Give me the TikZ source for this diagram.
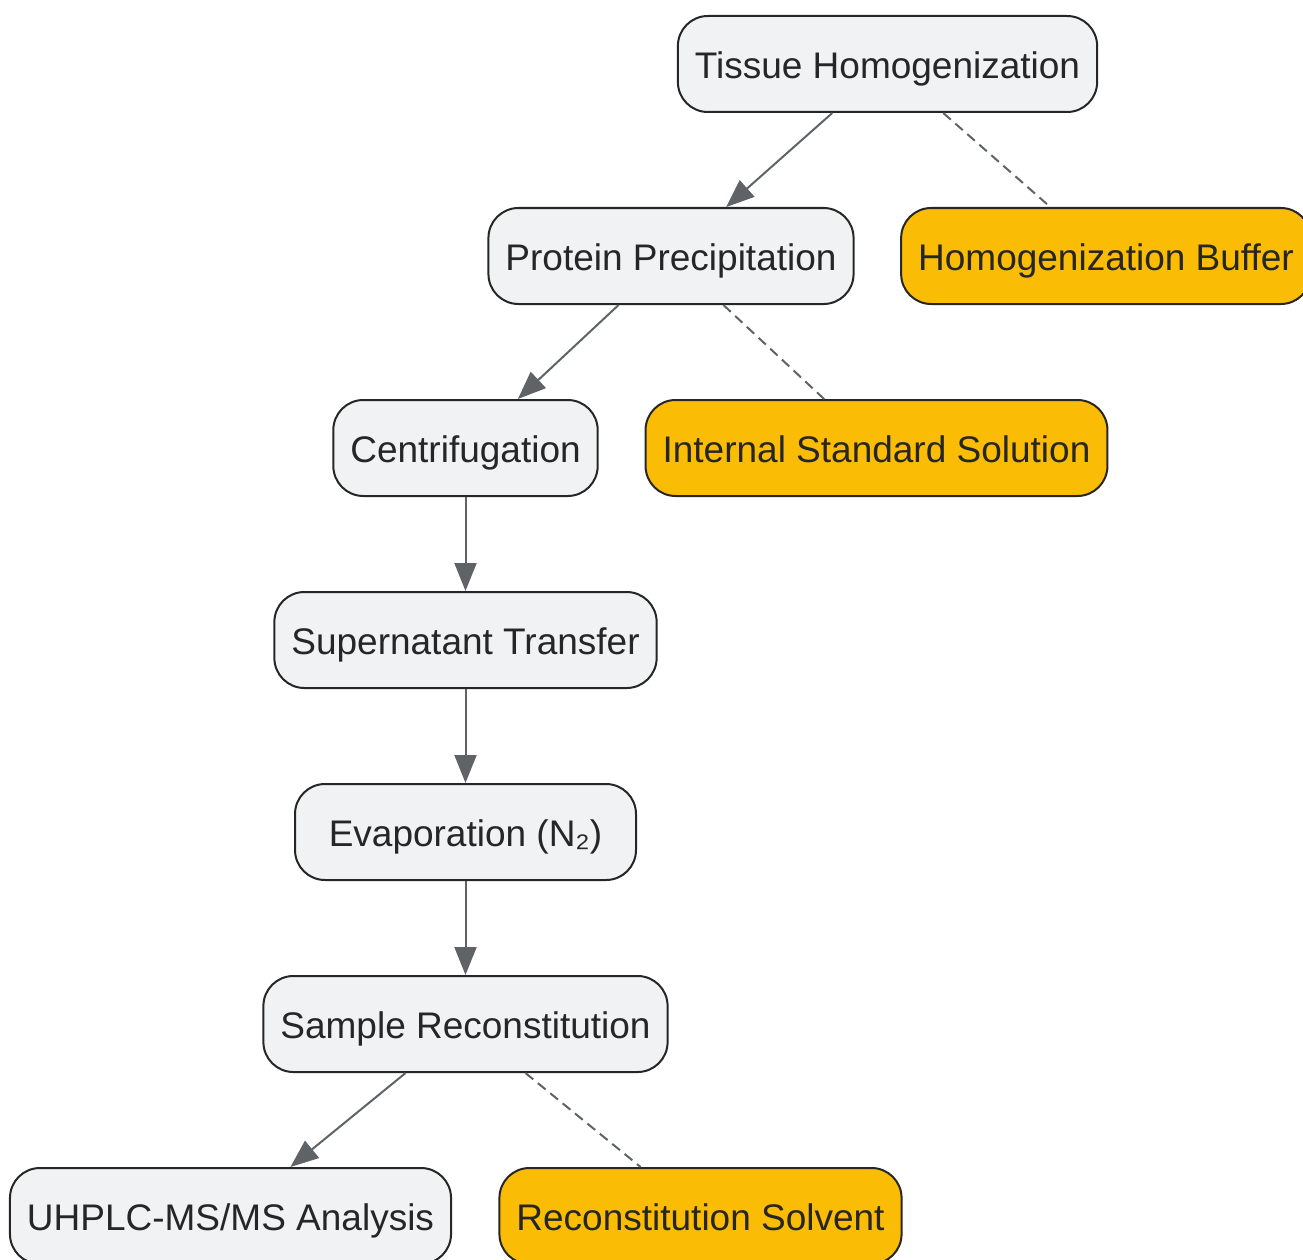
\documentclass[tikz,border=0pt]{standalone}
\usepackage{fontspec}
\setmainfont{Liberation Sans}
\usetikzlibrary{arrows.meta}

\definecolor{stepfill}{HTML}{F1F2F4}
\definecolor{reagentfill}{HTML}{FBBC05}
\definecolor{boxline}{HTML}{262626}
\definecolor{flowline}{HTML}{5F6368}

\tikzset{every picture/.style={line width=2pt}}
\tikzset{
  stepbox/.style={draw=boxline, fill=stepfill, rounded corners=30pt, line width=2pt,
    minimum height=96pt, inner xsep=17pt, text height=30pt, text depth=1.4pt,
    text=boxline, font=\fontsize{37}{44}\selectfont},
  reagentbox/.style={stepbox, fill=reagentfill},
  flow/.style={draw=flowline, line width=2pt, -{Triangle[length=28pt,width=22pt]}},
  addin/.style={draw=flowline, line width=2pt, dash pattern=on 10pt off 6pt}
}

\begin{document}
\begin{tikzpicture}[x=1pt,y=1pt,yscale=-1]
		%set diagram left start at 0, and has height of 1260
		\useasboundingbox (0,0) rectangle (1303,1260);
		
		% Step Nodes
		\node [stepbox] (tis) at (887.5,64) {Tissue Homogenization};
		\node [stepbox] (pp) at (671,256) {Protein Precipitation};
		\node [stepbox] (cen) at (465.5,448) {Centrifugation};
		\node [stepbox] (sup) at (465.5,640) {Supernatant Transfer};
		\node [stepbox, minimum width=341pt] (evp) at (465.5,832) {Evaporation (N₂)};
		\node [stepbox] (rec) at (465.5,1024) {Sample Reconstitution};
		\node [stepbox] (ms) at (230.5,1216) {UHPLC-MS/MS Analysis};
		
		% Reagent Nodes
		\node [reagentbox] (buf) at (1106,256) {Homogenization Buffer};
		\node [reagentbox] (iss) at (876.5,448) {Internal Standard Solution};
		\node [reagentbox] (sol) at (700.5,1216) {Reconstitution Solvent};
		
		% Flow Arrows
		\draw [flow] (tis) -- (pp);
		\draw [flow] (pp) -- (cen);
		\draw [flow] (cen) -- (sup);
		\draw [flow] (sup) -- (evp);
		\draw [flow] (evp) -- (rec);
		\draw [flow] (rec) -- (ms);
		
		% Dashed Links
		\draw [addin] (tis) -- (buf);
		\draw [addin] (pp) -- (iss);
		\draw [addin] (rec) -- (sol);
	\end{tikzpicture}
\end{document}
